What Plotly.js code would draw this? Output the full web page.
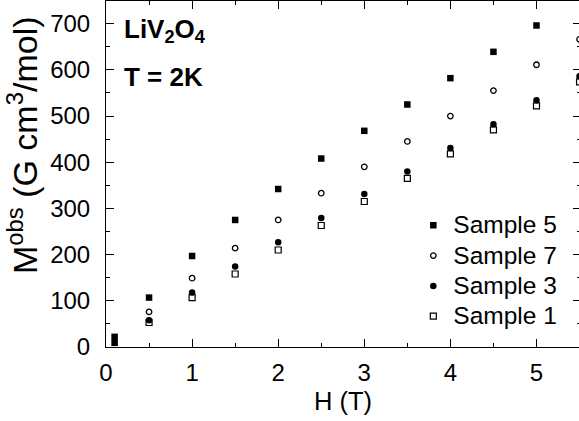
<!DOCTYPE html>
<html>
<head>
<meta charset="utf-8">
<script src="https://cdn.plot.ly/plotly-3.0.1.min.js"></script>
<style>
  html, body { margin: 0; padding: 0; overflow: hidden; background: #fff; }
  #chart { width: 581px; height: 421px; }
</style>
</head>
<body>
<div id="chart"></div>
<script>
// Data
const hSample5 = [0.1, 0.1, 0.5, 1, 1.5, 2, 2.5, 3, 3.5, 4, 4.5, 5];
const mSample5 = [22, 9, 107, 197, 275, 342, 408, 468, 525, 582, 639, 696];

const hSample7 = [0.5, 1, 1.5, 2, 2.5, 3, 3.5, 4, 4.5, 5, 5.5];
const mSample7 = [76, 149, 214, 275, 333, 390, 445, 500, 555, 611, 666];

const hSample3 = [0.5, 1, 1.5, 2, 2.5, 3, 3.5, 4, 4.5, 5, 5.5];
const mSample3 = [58, 118, 174, 227, 279, 331, 380, 431, 482, 534, 586];

const hSample1 = [0.5, 1, 1.5, 2, 2.5, 3, 3.5, 4, 4.5, 5, 5.5];
const mSample1 = [53, 107, 158, 210, 263, 315, 365, 418, 470, 522, 574];

const seriesNames = ["Sample 5", "Sample 7", "Sample 3", "Sample 1"];

const FONT = "Arial, 'Liberation Sans', sans-serif";
const legendLabel = s => '<span style="font-size:24.5px">' + s + '</span>';

const traces = [
  { x: hSample1, y: mSample1, name: legendLabel(seriesNames[3]), legendrank: 4,
    marker: { symbol: "square-open", size: 6, color: "#000", line: { width: 1.2, color: "#000" } } },
  { x: hSample3, y: mSample3, name: legendLabel(seriesNames[2]), legendrank: 3,
    marker: { symbol: "circle", size: 6.5, color: "#000", line: { width: 0 } } },
  { x: hSample7, y: mSample7, name: legendLabel(seriesNames[1]), legendrank: 2,
    marker: { symbol: "circle-open", size: 5.5, color: "#000", line: { width: 1.3, color: "#000" } } },
  { x: hSample5, y: mSample5, name: legendLabel(seriesNames[0]), legendrank: 1,
    marker: { symbol: "square", size: 6.5, color: "#000", line: { width: 0 } } }
].map(t => Object.assign({ type: "scatter", mode: "markers", cliponaxis: true }, t));

const layout = {
  width: 581, height: 421,
  margin: { l: 106, r: 0, t: 1, b: 74, pad: 0 },
  paper_bgcolor: "#fff", plot_bgcolor: "#fff",
  font: { family: FONT, color: "#000", size: 22 },
  showlegend: true,
  legend: {
    x: 0.647, y: 0.41, xanchor: "left", yanchor: "top",
    bgcolor: "rgba(0,0,0,0)", borderwidth: 0,
    font: { family: FONT, size: 21, color: "#000" },
    traceorder: "normal", itemwidth: 30
  },
  xaxis: {
    range: [0, 5.517], showgrid: false, zeroline: false,
    showline: true, linecolor: "#000", linewidth: 1, mirror: "ticks",
    ticks: "inside", ticklen: 8, tickwidth: 1, tickcolor: "#000",
    tick0: 0, dtick: 1, ticklabelstandoff: 4,
    minor: { dtick: 0.5, ticks: "inside", ticklen: 4, tickwidth: 1, tickcolor: "#000", showgrid: false },
    tickfont: { family: FONT, size: 24, color: "#000" }
  },
  yaxis: {
    range: [0, 749], showgrid: false, zeroline: false,
    showline: true, linecolor: "#000", linewidth: 1, mirror: "ticks",
    ticks: "inside", ticklen: 8, tickwidth: 1, tickcolor: "#000",
    tick0: 0, dtick: 100, ticklabelstandoff: 10,
    minor: { dtick: 50, ticks: "inside", ticklen: 4, tickwidth: 1, tickcolor: "#000", showgrid: false },
    tickfont: { family: FONT, size: 24, color: "#000" }
  },
  annotations: [
    { text: "H (T)",
      xref: "paper", yref: "paper", x: 0.498, y: -0.156,
      xanchor: "center", yanchor: "middle", showarrow: false,
      font: { family: FONT, size: 25.5, color: "#000" } },
    { text: "M<sup>obs</sup> (G cm<sup>3</sup>/mol)", textangle: -90,
      xref: "paper", yref: "paper", x: -0.176, y: 0.585,
      xanchor: "center", yanchor: "middle", showarrow: false,
      font: { family: FONT, size: 34, color: "#000" } },
    { text: "<b>LiV<sub>2</sub>O<sub>4</sub></b>",
      xref: "x", yref: "y", x: 0.185, y: 685,
      xanchor: "left", yanchor: "middle", showarrow: false,
      font: { family: FONT, size: 26, color: "#000" } },
    { text: "<b>T = 2K</b>",
      xref: "x", yref: "y", x: 0.185, y: 585,
      xanchor: "left", yanchor: "middle", showarrow: false,
      font: { family: FONT, size: 26, color: "#000" } }
  ]
};

Plotly.newPlot("chart", traces, layout, { displayModeBar: false, staticPlot: true });
</script>
</body>
</html>
